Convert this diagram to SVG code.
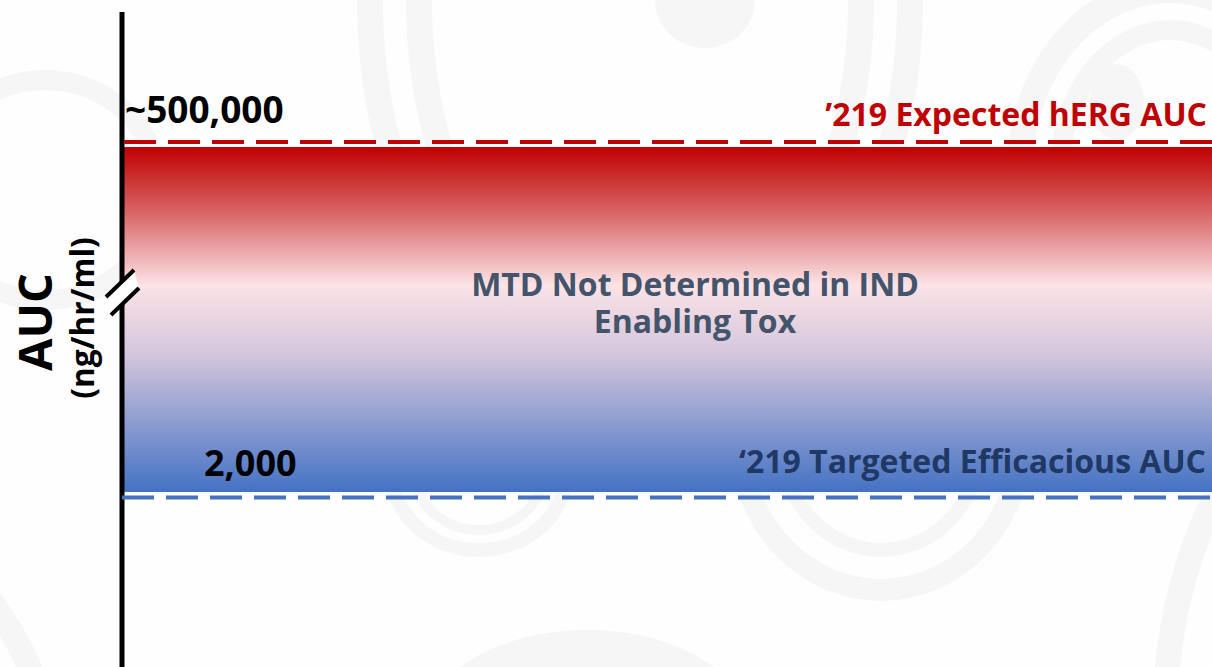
<svg xmlns="http://www.w3.org/2000/svg" width="1212" height="667" viewBox="0 0 1212 667">
  <defs>
    <linearGradient id="band" x1="0" y1="0" x2="0" y2="1">
      <stop offset="0" stop-color="#C00000"/>
      <stop offset="0.2" stop-color="#DA6A6C"/>
      <stop offset="0.4" stop-color="#FCE3E6"/>
      <stop offset="0.6" stop-color="#D4C6DC"/>
      <stop offset="1" stop-color="#4472C4"/>
    </linearGradient>
    <style>
      .wm { fill: none; stroke: #f6f6f6; }
      .wmf { fill: #f6f6f6; stroke: none; }
      .lbl { font-family: "Open Sans", "Noto Sans", "Liberation Sans", sans-serif; font-weight: 700; }
    </style>
  </defs>
  <rect x="0" y="0" width="1212" height="667" fill="#fefefe"/>
  <g id="watermark">
    <ellipse class="wm" cx="640" cy="0" rx="270" ry="400" stroke-width="26"/>
    <ellipse class="wm" cx="640" cy="0" rx="221" ry="350" stroke-width="26"/>
    <ellipse class="wmf" cx="705" cy="0" rx="50" ry="48"/>
    <ellipse class="wm" cx="1170" cy="170" rx="150" ry="180" stroke-width="26"/>
    <ellipse class="wm" cx="1170" cy="170" rx="110" ry="140" stroke-width="20"/>
    <ellipse class="wmf" cx="1117" cy="102" rx="27" ry="38"/>
    <ellipse class="wm" cx="479" cy="470" rx="88" ry="80" stroke-width="14"/>
    <ellipse class="wm" cx="479" cy="470" rx="65" ry="60" stroke-width="10"/>
    <ellipse class="wm" cx="881" cy="440" rx="140" ry="150" stroke-width="22"/>
    <ellipse class="wm" cx="881" cy="440" rx="100" ry="110" stroke-width="14"/>
    <ellipse class="wmf" cx="587" cy="740" rx="170" ry="110"/>
    <ellipse class="wm" cx="-160" cy="820" rx="220" ry="300" stroke-width="24"/>
    <ellipse class="wm" cx="-160" cy="820" rx="170" ry="240" stroke-width="18"/>
    <ellipse class="wm" cx="45" cy="190" rx="115" ry="110" stroke-width="20"/>
    <ellipse class="wm" cx="1400" cy="720" rx="235" ry="360" stroke-width="25"/>
  </g>
  <g id="range-band">
    <rect x="124" y="147" width="1088" height="345" fill="url(#band)"/>
  </g>
  <g id="connectors">
    <line id="axis" x1="122" y1="12" x2="122" y2="667" stroke="#000" stroke-width="5"/>
    <line id="herg-line" x1="124" y1="142" x2="1212" y2="142" stroke="#C00000" stroke-width="4" stroke-dasharray="32 12"/>
    <line id="eff-line" x1="122" y1="497.5" x2="1212" y2="497.5" stroke="#4472C4" stroke-width="4" stroke-dasharray="32 12"/>
  </g>
  <g id="axis-break">
    <polygon points="106,297 134,270 139,288 111,315" fill="#fefefe"/>
    <line x1="106" y1="297" x2="134" y2="270" stroke="#000" stroke-width="4"/>
    <line x1="111" y1="315" x2="139" y2="288" stroke="#000" stroke-width="4"/>
  </g>
  <g id="axis-label">
    <text class="lbl" transform="translate(52,322) rotate(-90)" text-anchor="middle" font-size="47" fill="#000">AUC</text>
    <text class="lbl" transform="translate(94,318) rotate(-90)" text-anchor="middle" font-size="31.5" fill="#000">(ng/hr/ml)</text>
  </g>
  <g id="top-value">
    <text class="lbl" x="125" y="123" font-size="37" fill="#000">~500,000</text>
  </g>
  <g id="bottom-value">
    <text class="lbl" x="204" y="476" font-size="36" fill="#000">2,000</text>
  </g>
  <g id="herg-label">
    <text class="lbl" x="1207" y="126" text-anchor="end" font-size="32" fill="#C00000">’219 Expected hERG AUC</text>
  </g>
  <g id="eff-label">
    <text class="lbl" x="1206" y="473" text-anchor="end" font-size="32" fill="#1F3864">‘219 Targeted Efficacious AUC</text>
  </g>
  <g id="center-note">
    <text class="lbl" x="695" y="296" text-anchor="middle" font-size="32" fill="#44546A">MTD Not Determined in IND</text>
    <text class="lbl" x="695" y="333" text-anchor="middle" font-size="32" fill="#44546A">Enabling Tox</text>
  </g>
</svg>
